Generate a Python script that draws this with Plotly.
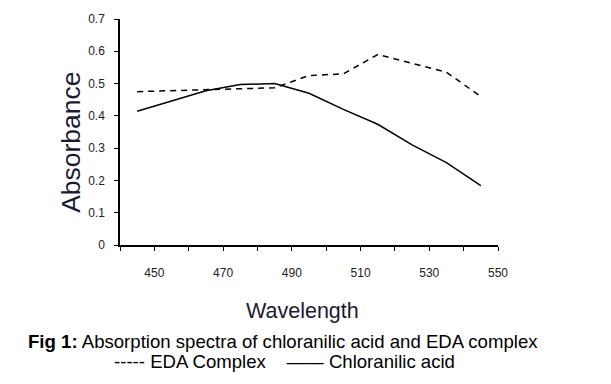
import plotly.graph_objects as go

wavelength = [445, 455, 465, 475, 485, 495, 505, 515, 525, 535, 545]
eda_complex = [0.475, 0.478, 0.482, 0.486, 0.487, 0.525, 0.53, 0.59, 0.562, 0.535, 0.46]
chloranilic_acid = [0.414, 0.446, 0.478, 0.497, 0.50, 0.47, 0.42, 0.374, 0.31, 0.255, 0.184]

x_tickvals = [440, 450, 460, 470, 480, 490, 500, 510, 520, 530, 540, 550]
x_ticktext = ["", "450", "", "470", "", "490", "", "510", "", "530", "", "550"]
y_tickvals = [0, 0.1, 0.2, 0.3, 0.4, 0.5, 0.6, 0.7]
y_ticktext = ["0", "0.1", "0.2", "0.3", "0.4", "0.5", "0.6", "0.7"]

FONT = "Liberation Sans, Arial, sans-serif"

fig = go.Figure()
fig.add_trace(go.Scatter(x=wavelength, y=eda_complex, mode="lines", name="EDA Complex",
                         line=dict(color="black", width=1.5, dash="6px,5px")))
fig.add_trace(go.Scatter(x=wavelength, y=chloranilic_acid, mode="lines", name="Chloranilic acid",
                         line=dict(color="black", width=1.5)))

fig.update_layout(
    width=611, height=384,
    margin=dict(l=120, r=113, t=17, b=139),
    paper_bgcolor="white", plot_bgcolor="white",
    showlegend=False,
    font=dict(family=FONT, color="black"),
    xaxis=dict(range=[440, 550], tickmode="array", tickvals=x_tickvals, ticktext=x_ticktext,
               showline=True, linecolor="black", linewidth=1.5, ticks="outside", ticklen=4,
               tickcolor="black", tickwidth=1, showgrid=False, zeroline=False,
               tickfont=dict(size=12, color="#222222"), ticklabelstandoff=12),
    yaxis=dict(range=[0, 0.7], tickmode="array", tickvals=y_tickvals, ticktext=y_ticktext,
               showline=True, linecolor="black", linewidth=1.5, ticks="outside", ticklen=4,
               tickcolor="black", tickwidth=1, showgrid=False, zeroline=False,
               tickfont=dict(size=12, color="#222222"), ticklabelstandoff=7),
)

fig.add_annotation(text="Absorbance", xref="paper", yref="paper", x=-0.1296, y=0.452,
                   xanchor="center", yanchor="middle", textangle=-90, showarrow=False,
                   font=dict(size=26.5, color="#1a1a33", family=FONT))
fig.add_annotation(text="Wavelength", xref="paper", yref="paper", x=0.484, y=-0.294,
                   xanchor="center", yanchor="middle", showarrow=False,
                   font=dict(size=21.5, color="#1a1a33", family=FONT))
fig.add_annotation(text="<b>Fig 1:</b> Absorption spectra of chloranilic acid and EDA complex",
                   xref="paper", yref="paper", x=0.4325, y=-0.4254,
                   xanchor="center", yanchor="middle", showarrow=False,
                   font=dict(size=18.6, color="black", family=FONT))
fig.add_annotation(text="----- EDA Complex    —— Chloranilic acid",
                   xref="paper", yref="paper", x=0.434, y=-0.5175,
                   xanchor="center", yanchor="middle", showarrow=False,
                   font=dict(size=18.6, color="black", family=FONT))

fig.write_html("out.html", config={"displayModeBar": False},
               post_script="document.body.style.margin='0';document.body.style.overflow='hidden';")
